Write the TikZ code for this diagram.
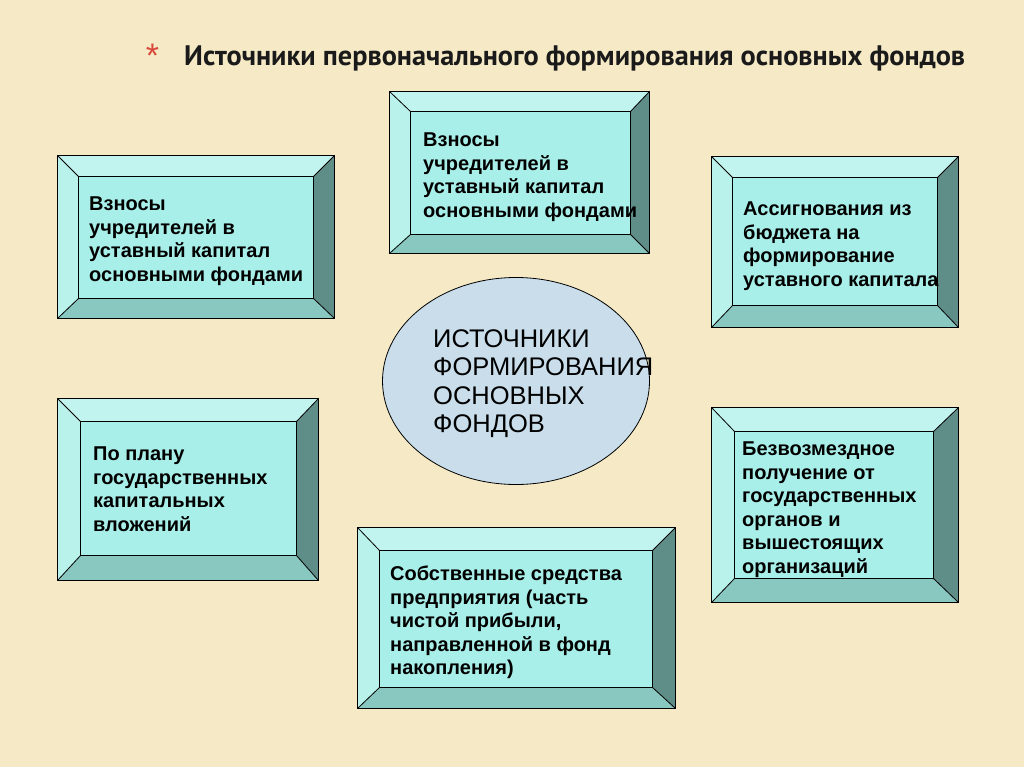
\documentclass[tikz,border=0pt]{standalone}
\usepackage{fontspec}
\setmainfont{Liberation Sans}
\newfontfamily\titlefont{PT Sans}
\usetikzlibrary{fit,shapes.geometric}
\definecolor{bgc}{HTML}{F5EAC5}
\definecolor{innerc}{HTML}{A9EFE9}
\definecolor{topc}{HTML}{C2F4EF}
\definecolor{leftc}{HTML}{B9F1EB}
\definecolor{rightc}{HTML}{5F8D88}
\definecolor{botc}{HTML}{88C8C0}
\definecolor{ellc}{HTML}{C9DDEB}
\definecolor{starc}{HTML}{D9483B}
\definecolor{titc}{HTML}{1A1A1A}
\tikzset{
  edge/.style={draw=black, line width=0.8pt, line join=miter},
  outerfit/.style={inner sep=0pt, rectangle},
  innerfit/.style={inner sep=0pt, rectangle, fill=innerc},
  boxtext/.style={anchor=north west, inner sep=0pt, align=left,
    font=\fontsize{20}{23.5}\selectfont\bfseries, text=black},
}
\newcommand\bevelfaces[2]{%
  \fill[topc] (#1.north west) -- (#1.north east) -- (#2.north east) -- (#2.north west) -- cycle;
  \fill[leftc] (#1.north west) -- (#2.north west) -- (#2.south west) -- (#1.south west) -- cycle;
  \fill[rightc] (#1.north east) -- (#1.south east) -- (#2.south east) -- (#2.north east) -- cycle;
  \fill[botc] (#1.south west) -- (#2.south west) -- (#2.south east) -- (#1.south east) -- cycle;
  \draw[edge] (#1.north west) -- (#2.north west) (#1.north east) -- (#2.north east)
              (#1.south west) -- (#2.south west) (#1.south east) -- (#2.south east);
  \draw[edge] (#2.north west) rectangle (#2.south east);
  \draw[edge] (#1.north west) rectangle (#1.south east);
}
\begin{document}
\begin{tikzpicture}[x=1pt,y=-1pt]
\fill[bgc] (0,0) rectangle (1024,767);
\useasboundingbox (0,0) rectangle (1024,767);

% title
\node[anchor=base, inner sep=0pt, text=starc, font=\fontsize{34}{34}\selectfont] (star) at (152.5,68) {*};
\node[anchor=base west, inner sep=0pt, text=titc] (title) at (184,66)
  {\resizebox{781pt}{!}{\titlefont\bfseries\fontsize{27}{27}\selectfont Источники первоначального формирования основных фондов}};

% box 1
\node[outerfit, fit={(58,156)(334,318)}] (b1) {};
\node[innerfit, fit={(79,177)(313,298)}] (b1i) {};
\bevelfaces{b1}{b1i}
\node[boxtext] (t1) at (89,197) {Взносы\\учредителей в\\уставный капитал\\основными фондами};

% box 2
\node[outerfit, fit={(390,92)(649,253)}] (b2) {};
\node[innerfit, fit={(411,112)(630,234)}] (b2i) {};
\bevelfaces{b2}{b2i}
\node[boxtext] (t2) at (423,133) {Взносы\\учредителей в\\уставный капитал\\основными фондами};

% box 3
\node[outerfit, fit={(712,157)(958,327)}] (b3) {};
\node[innerfit, fit={(733,178)(937,305)}] (b3i) {};
\bevelfaces{b3}{b3i}
\node[boxtext] (t3) at (743,202) {Ассигнования из\\бюджета на\\формирование\\уставного капитала};

% box 4
\node[outerfit, fit={(58,399)(318,580)}] (b4) {};
\node[innerfit, fit={(81,422)(296,555)}] (b4i) {};
\bevelfaces{b4}{b4i}
\node[boxtext] (t4) at (93,447) {По плану\\государственных\\капитальных\\вложений};

% box 5
\node[outerfit, fit={(358,528)(675,708)}] (b5) {};
\node[innerfit, fit={(380,551)(652,687)}] (b5i) {};
\bevelfaces{b5}{b5i}
\node[boxtext] (t5) at (390,566) {Собственные средства\\предприятия (часть\\чистой прибыли,\\направленной в фонд\\накопления)};

% box 6
\node[outerfit, fit={(712,408)(958,602)}] (b6) {};
\node[innerfit, fit={(735,432)(933,578)}] (b6i) {};
\bevelfaces{b6}{b6i}
\node[boxtext] (t6) at (742,442) {Безвозмездное\\получение от\\государственных\\органов и\\вышестоящих\\организаций};

% central ellipse
\node[ellipse, draw=black, line width=0.8pt, fill=ellc, minimum width=267pt, minimum height=207pt, inner sep=0pt] (ell) at (516,381) {};
\node[anchor=north west, inner sep=0pt, align=left, font=\fontsize{25.5}{28.5}\selectfont] (ct) at (433,329)
  {ИСТОЧНИКИ\\ФОРМИРОВАНИЯ\\ОСНОВНЫХ\\ФОНДОВ};
\end{tikzpicture}
\end{document}
